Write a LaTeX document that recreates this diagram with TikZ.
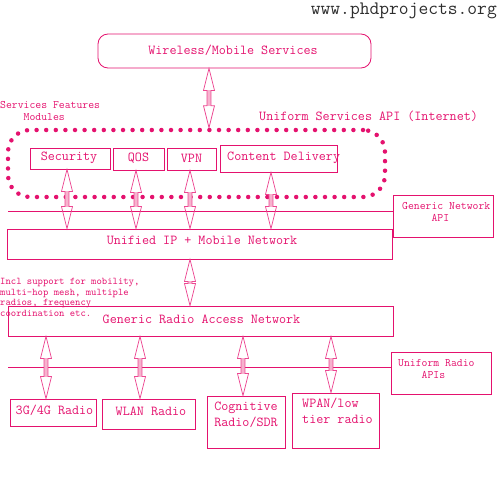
\documentclass[tikz,border=0pt]{standalone}
\usetikzlibrary{calc}
\definecolor{mag}{RGB}{228,18,110}
\definecolor{arrowline}{RGB}{236,70,145}
\definecolor{arrowfill}{RGB}{247,178,206}
\definecolor{titlegray}{RGB}{45,45,45}
\newcommand\dblar[2]{%
  \fill[arrowfill] ($(#1)+(-2,22)$) rectangle ($(#2)+(2,-22)$);
  \draw[dbl] (#1) to (#2);}
\begin{document}
\begin{tikzpicture}[x=1pt,y=-1pt,
  box/.style={draw=mag, line width=0.8pt, inner sep=0pt},
  lbl/.style={text=mag, inner sep=0pt, font=\ttfamily\fontsize{13.7}{16}\selectfont},
  small/.style={text=mag, inner sep=0pt, align=left, font=\ttfamily\fontsize{11.4}{11.5}\selectfont},
  hline/.style={draw=mag, line width=0.8pt},
  dotsbox/.style={draw=mag, line width=4.5pt, line cap=round, dash pattern=on 0pt off 9.6pt, rounded corners=22pt, inner sep=0pt},
  dbl/.style={draw=arrowline, line width=0.75pt, line join=miter, to path={
     -- ($(\tikztostart)+(5.5,22)$) -- ($(\tikztostart)+(2,22)$) -- ($(\tikztotarget)+(2,-22)$)
     -- ($(\tikztotarget)+(5.5,-22)$) -- (\tikztotarget) -- ($(\tikztotarget)+(-5.5,-22)$)
     -- ($(\tikztotarget)+(-2,-22)$) -- ($(\tikztostart)+(-2,22)$) -- ($(\tikztostart)+(-5.5,22)$) -- cycle}}]
\useasboundingbox (0,0) rectangle (500,500);

% title
\node[anchor=base east, inner sep=0pt, text=titlegray, font=\ttfamily\fontsize{19}{22}\selectfont] (title) at (497,14.5) {www.phdprojects.org};

% top service box
\node[box, rounded corners=10pt, minimum width=273, minimum height=34] (ws) at (234.5,51) {};
\node[lbl] (wst) at (233,50) {Wireless/Mobile Services};

% labels
\node[small, anchor=north west] (sfm) at (0,101.5) {Services Features\\\phantom{XXXX}Modules};
\node[lbl, anchor=west] (usa) at (259,116) {Uniform Services API (Internet)};

% dotted group
\node[dotsbox, minimum width=377, minimum height=67] (grp) at (196.5,163.5) {};

% feature boxes
\node[box, minimum width=80, minimum height=21] (sec) at (70,158.5) {};
\node[lbl] (sect) at (69,157.5) {Security};
\node[box, minimum width=51, minimum height=22] (qos) at (138.5,159) {};
\node[lbl] (qost) at (138.5,158.5) {QOS};
\node[box, minimum width=49, minimum height=22] (vpn) at (191.5,159) {};
\node[lbl] (vpnt) at (191.5,158.5) {VPN};
\node[box, minimum width=117, minimum height=27] (cd) at (278.5,158.5) {};
\node[lbl, anchor=west] (cdt) at (227,157.5) {Content Delivery};

% generic network api
\node[box, minimum width=100, minimum height=42] (gna) at (443,216) {};
\node[small, anchor=north west] (gnat) at (402,202.5) {Generic Network\\\phantom{XXXXX}API};

% unified
\node[box, minimum width=385, minimum height=30] (uni) at (199.5,244) {};
\node[lbl] (unit) at (202,240) {Unified IP + Mobile Network};

% line api 1
\coordinate (l1) at (8,211);
\draw[hline] (l1) -- (gna.west |- l1);

% incl text
\node[text=mag, inner sep=0pt, align=left, anchor=north west, font=\ttfamily\fontsize{10.2}{10.4}\selectfont] (incl) at (0,278.5)
  {Incl support for mobility,\\multi-hop mesh, multiple\\radios, frequency\\coordination etc.};

% generic radio access network
\node[box, minimum width=385, minimum height=30] (gran) at (200.5,321) {};
\node[lbl] (grant) at (201.5,319) {Generic Radio Access Network};

% uniform radio apis
\node[box, minimum width=100, minimum height=42] (ura) at (441,373) {};
\node[small, anchor=north west] (urat) at (398,359.5) {Uniform Radio\\\phantom{XXXX}APIs};

\coordinate (l2) at (8,367);
\draw[hline] (l2) -- (ura.west |- l2);

% radios
\node[box, minimum width=86, minimum height=27] (r3g) at (53,412.5) {};
\node[lbl] (r3gt) at (54.5,410) {3G/4G Radio};
\node[box, minimum width=93, minimum height=30] (wlan) at (148.5,414) {};
\node[lbl] (wlant) at (151,411) {WLAN Radio};
\node[box, minimum width=78, minimum height=52] (cog) at (246,422) {};
\node[lbl, align=center, anchor=north] (cogt) at (246,401.5) {Cognitive\\Radio/SDR};
\node[box, minimum width=87, minimum height=55] (wpan) at (335.5,420.5) {};
\node[lbl, align=left, anchor=north west] (wpant) at (302,397.5) {WPAN/low\\tier radio};

% arrows
\coordinate (a0t) at ($(ws.south)+(-25.5,0)$);
\coordinate (a0b) at (a0t |- grp.north);
\dblar{a0t}{a0b}
\coordinate (a1t) at ($(sec.south)+(-3,0)$);
\coordinate (a1b) at (a1t |- uni.north);
\dblar{a1t}{a1b}
\coordinate (a2t) at ($(qos.south)+(-2.5,0)$);
\coordinate (a2b) at (a2t |- uni.north);
\dblar{a2t}{a2b}
\coordinate (a3t) at ($(vpn.south)+(-1.5,0)$);
\coordinate (a3b) at (a3t |- uni.north);
\dblar{a3t}{a3b}
\coordinate (a4t) at ($(cd.south)+(-7.5,0)$);
\coordinate (a4b) at (a4t |- uni.north);
\dblar{a4t}{a4b}
\coordinate (a5t) at ($(uni.south)+(-9.5,0)$);
\coordinate (a5b) at (a5t |- gran.north);
\dblar{a5t}{a5b}
\coordinate (b1t) at ($(gran.south -| r3g.north)+(-7,0)$);
\coordinate (b1b) at (b1t |- r3g.north);
\dblar{b1t}{b1b}
\coordinate (b2t) at ($(gran.south -| wlan.north)+(-8.5,0)$);
\coordinate (b2b) at (b2t |- wlan.north);
\dblar{b2t}{b2b}
\coordinate (b3t) at ($(gran.south -| cog.north)+(-3,0)$);
\coordinate (b3b) at (b3t |- cog.north);
\dblar{b3t}{b3b}
\coordinate (b4t) at ($(gran.south -| wpan.north)+(-4.5,0)$);
\coordinate (b4b) at (b4t |- wpan.north);
\dblar{b4t}{b4b}
\end{tikzpicture}
\end{document}
